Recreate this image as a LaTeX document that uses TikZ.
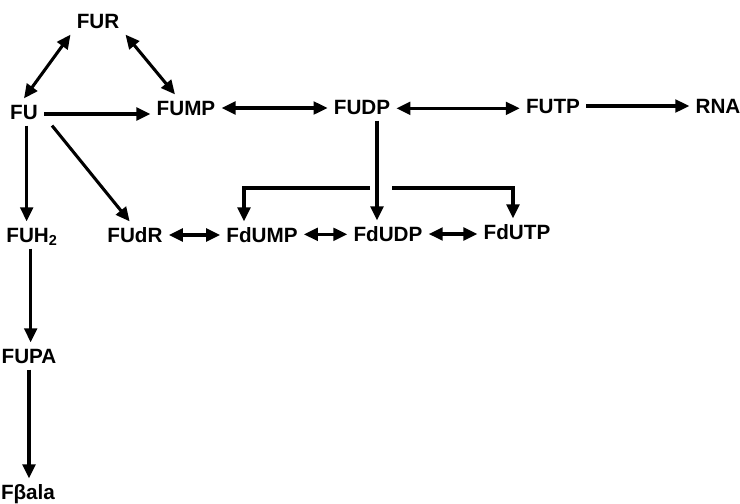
\documentclass[tikz,border=0pt]{standalone}
\usepackage{fontspec}
\setmainfont{Liberation Sans}
\usetikzlibrary{arrows.meta}

\begin{document}
\begin{tikzpicture}[
    x=0.75pt,y=-0.75pt,
    font=\fontsize{15.5}{18}\selectfont\bfseries,
    cpd/.style={inner sep=4.5pt,text height=11pt,text depth=0pt},
    ar/.style={line width=2.3pt,-{Triangle[length=10.5pt,width=9.5pt]}},
    dar/.style={line width=2.3pt,{Triangle[length=10.5pt,width=9.5pt]}-{Triangle[length=10.5pt,width=9.5pt]}}
  ]
    \useasboundingbox (0,0) rectangle (740,504);

    \node[cpd] (fur)   at (98,21)   {FUR};
    \node[cpd] (fu)    at (24,112)  {FU};
    \node[cpd] (fump)  at (186,108) {FUMP};
    \node[cpd] (fudp)  at (362,107) {FUDP};
    \node[cpd] (futp)  at (553,106) {FUTP};
    \node[cpd] (rna)   at (718,106) {RNA};

    \node[cpd] (fuh)   at (32,235)  {FUH\textsubscript{2}};
    \node[cpd] (fudr)  at (135,235) {FUdR};
    \node[cpd] (fdump) at (262,235) {FdUMP};
    \node[cpd] (fdudp) at (388,234) {FdUDP};
    \node[cpd] (fdutp) at (517,232) {FdUTP};

    \node[cpd] (fupa)  at (29,356)  {FUPA};
    \node[cpd] (fbala) at (28,492)  {Fβala};

    \coordinate (brL) at (370,188);
    \coordinate (brR) at (392,188);

    % top row
    \draw[dar] (fu.north) -- (fur.south west);
    \draw[dar] (fur.south east) -- ([xshift=-8.25pt]fump.north);
    \draw[ar]  ([yshift=-1.5pt]fu.east) -- ([yshift=-1.5pt]fu.east -| fump.west);
    \draw[dar] (fump.east) -- (fump.east -| fudp.west);
    \draw[dar] ([yshift=-1pt]fudp.east) -- ([yshift=-1pt]fudp.east -| futp.west);
    \draw[ar]  (futp.east) -- (futp.east -| rna.west);

    % deoxy branch
    \draw[ar]  ([xshift=6pt]fu.south east) -- ([xshift=-4pt]fudr.north);
    \draw[ar]  ([xshift=11.25pt]fudp.south) -- ([xshift=-8.25pt]fdudp.north);
    \draw[ar]  (brL) -| ([xshift=-13.5pt]fdump.north);
    \draw[ar]  (brR) -| ([xshift=-3pt]fdutp.north);
    \draw[dar] (fudr.east) -- (fudr.east -| fdump.west);
    \draw[dar] ([yshift=0.5pt]fdump.east) -- ([yshift=0.5pt]fdump.east -| fdudp.west);
    \draw[dar] (fdudp.east) -- (fdudp.east -| fdutp.west);

    % catabolic route
    \draw[ar]  ([xshift=2pt]fu.south) -- ([xshift=2pt]fu.south |- fuh.north);
    \draw[ar]  ([xshift=-1pt]fuh.south) -- ([xshift=-1pt]fuh.south |- fupa.north);
    \draw[ar]  (fupa.south) -- (fupa.south |- fbala.north);
\end{tikzpicture}
\end{document}
